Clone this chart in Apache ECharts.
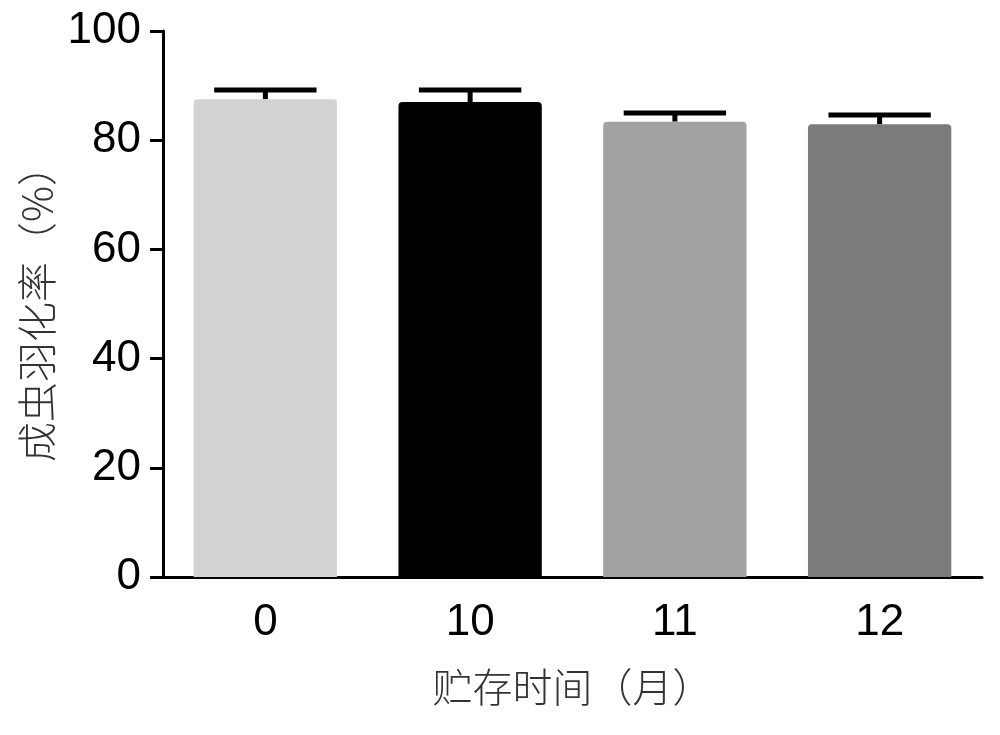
<!DOCTYPE html>
<html>
<head>
<meta charset="UTF-8">
<title>成虫羽化率</title>
<script src="https://cdn.jsdelivr.net/npm/echarts@6/dist/echarts.min.js"></script>
<style>
  html, body { margin: 0; padding: 0; background: #fff; }
</style>
</head>
<body>
<div id="main" style="width: 1000px;height:735px;"></div>
<script type="text/javascript">
  // 数据
  var months = ['0', '10', '11', '12'];
  var rates = [87.5, 87.0, 83.4, 82.9];
  var errs = [1.7, 2.2, 1.6, 1.7];
  var barColors = ['#d3d3d3', '#000000', '#a2a2a2', '#7b7b7b'];

  var myChart = echarts.init(document.getElementById('main'));

  var option = {
    animation: false,
    grid: {
      left: 163,
      right: 18,
      top: 31,
      bottom: 158
    },
    xAxis: {
      type: 'category',
      data: months,
      name: '贮存时间（月）',
      nameLocation: 'middle',
      nameGap: 90,
      nameTextStyle: {
        fontFamily: 'Noto Sans CJK SC',
        fontWeight: 300,
        fontSize: 40,
        color: '#333'
      },
      axisLine: { lineStyle: { color: '#000', width: 3 } },
      axisTick: { alignWithLabel: true, length: 12, lineStyle: { width: 3, color: '#000' } },
      axisLabel: {
        margin: 24,
        fontFamily: 'Liberation Sans',
        fontSize: 44,
        color: '#000'
      }
    },
    yAxis: {
      type: 'value',
      min: 0,
      max: 100,
      interval: 20,
      name: '成虫羽化率（%）',
      nameLocation: 'middle',
      nameGap: 100,
      nameTextStyle: {
        fontFamily: 'Noto Sans CJK SC',
        fontWeight: 300,
        fontSize: 40,
        color: '#333'
      },
      splitLine: { show: false },
      axisLine: { show: true, lineStyle: { color: '#000', width: 3 } },
      axisTick: { show: true, length: 13, lineStyle: { width: 3, color: '#000' } },
      axisLabel: {
        margin: 22,
        fontFamily: 'Liberation Sans',
        fontSize: 44,
        color: '#000'
      }
    },
    series: [
      {
        // 误差线（画在柱子后面，只露出上半部分）
        type: 'custom',
        z: 1,
        data: rates.map(function (v, i) { return [i, v, errs[i]]; }),
        renderItem: function (params, api) {
          var x = api.value(0);
          var top = api.coord([x, api.value(1) + api.value(2)]);
          var base = api.coord([x, api.value(1)]);
          var half = api.size([1, 0])[0] * 0.25;
          return {
            type: 'group',
            children: [
              { type: 'line', shape: { x1: top[0], y1: top[1], x2: base[0], y2: base[1] },
                style: { stroke: '#000', lineWidth: 5 } },
              { type: 'line', shape: { x1: top[0] - half, y1: top[1], x2: top[0] + half, y2: top[1] },
                style: { stroke: '#000', lineWidth: 5 } }
            ]
          };
        }
      },
      {
        type: 'bar',
        z: 2,
        barWidth: '70%',
        data: rates.map(function (v, i) {
          return { value: v, itemStyle: { color: barColors[i], borderRadius: [4, 4, 0, 0] } };
        })
      }
    ]
  };

  myChart.setOption(option);
</script>
</body>
</html>
